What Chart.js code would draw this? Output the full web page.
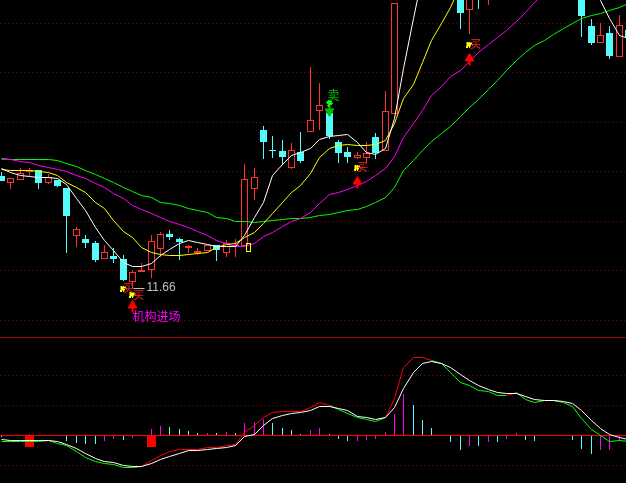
<!DOCTYPE html>
<html>
<head>
<meta charset="utf-8">
<title>K线</title>
<script src="https://cdn.jsdelivr.net/npm/chart.js@4"></script>
<style>
  html, body { margin: 0; padding: 0; background: #000; overflow: hidden; }
  canvas { display: block; }
</style>
</head>
<body>
<canvas id="myChart" width="626" height="483"></canvas>
<script>
// candles, index 0..67, values above 17.43 run off the top of the picture
const opens = [
  13.91, 13.77, 13.83, 13.99, 14.03, 13.77, 13.83, 13.67, 12.71, 12.65,
  12.57, 12.25, 12.31, 12.25, 11.79, 11.99, 12.03, 12.45, 12.75, 12.65,
  12.47, 12.37, 12.41, 12.53, 12.37, 12.51, 12.51, 13.65, 14.83, 14.43,
  14.41, 14.07, 14.39, 14.79, 15.21, 15.17, 14.59, 14.39, 14.27, 14.27,
  14.69, 14.41, 15.15, 18.4, 18.9, 19.8, 20.4, 20.6, 20.9, 18.2,
  17.23, 17.9, 17.8, 18.6, 19.4, 19.9, 20.3, 20.1, 19.8, 19.5,
  19.0, 18.4, 18.0, 16.91, 16.57, 16.77, 16.29, 16.83,
];
const closes = [
  13.81, 13.87, 13.97, 14.03, 13.77, 13.89, 13.71, 13.11, 12.85, 12.57,
  12.23, 12.39, 12.25, 11.83, 11.99, 12.03, 12.61, 12.75, 12.69, 12.59,
  12.51, 12.41, 12.53, 12.43, 12.57, 12.53, 13.85, 13.89, 14.59, 14.41,
  14.29, 14.43, 14.21, 15.03, 15.33, 14.71, 14.37, 14.29, 14.33, 14.37,
  14.37, 15.21, 17.37, 19.0, 19.7, 20.3, 20.5, 20.8, 20.1, 17.17,
  18.0, 17.5, 18.5, 19.3, 19.8, 20.2, 20.0, 19.7, 19.4, 19.1,
  18.5, 18.1, 17.11, 16.57, 16.73, 16.31, 16.93, 16.67,
];
const highs = [
  13.99, 13.87, 14.07, 14.07, 14.03, 13.95, 13.83, 13.67, 12.89, 12.73,
  12.61, 12.53, 12.47, 12.33, 12.03, 12.17, 12.73, 12.79, 12.83, 12.67,
  12.53, 12.47, 12.53, 12.53, 12.63, 12.65, 14.15, 14.07, 14.91, 14.71,
  14.63, 14.57, 14.79, 16.09, 15.77, 15.17, 14.63, 14.49, 14.39, 14.59,
  14.77, 15.61, 17.37, 19.2, 19.9, 20.5, 20.7, 21.0, 21.1, 18.4,
  18.2, 18.1, 18.7, 19.5, 20.0, 20.4, 20.5, 20.3, 20.0, 19.7,
  19.2, 18.6, 18.2, 17.05, 16.97, 16.91, 17.13, 16.83,
];
const lows = [
  13.81, 13.65, 13.83, 13.91, 13.65, 13.75, 13.69, 12.37, 12.49, 12.47,
  12.19, 12.25, 12.17, 11.81, 11.67, 11.99, 11.87, 12.29, 12.63, 12.23,
  12.37, 12.33, 12.41, 12.21, 12.29, 12.29, 12.51, 13.43, 14.25, 14.27,
  14.13, 14.05, 14.17, 14.79, 14.83, 14.65, 14.17, 14.17, 14.25, 14.17,
  14.25, 14.41, 15.15, 18.1, 18.7, 19.6, 20.2, 20.4, 20.0, 16.85,
  16.75, 17.25, 17.33, 18.4, 19.2, 19.7, 19.9, 19.6, 19.3, 19.0,
  18.3, 17.9, 16.69, 16.53, 16.57, 16.25, 16.29, 16.6,
];

// moving averages
const maWhite = [
  14.07, 13.99, 13.93, 13.91, 13.89, 13.89, 13.87, 13.75, 13.47, 13.23,
  12.89, 12.63, 12.43, 12.19, 12.11, 12.11, 12.17, 12.33, 12.45, 12.57,
  12.63, 12.59, 12.55, 12.51, 12.51, 12.51, 12.73, 13.09, 13.39, 13.93,
  14.15, 14.33, 14.39, 14.47, 14.65, 14.71, 14.73, 14.75, 14.59, 14.39,
  14.35, 14.47, 15.07, 16.07, 17.07, 17.93, 18.5, 19.0, 19.4, 19.6,
  19.8, 20.0, 20.1, 20.2, 20.3, 20.2, 20.1, 20.0, 19.7, 19.3,
  18.9, 18.5, 18.2, 17.8, 17.43, 17.07, 16.73, 16.67,
];
const maYellow = [
  14.05, 14.03, 14.03, 14.03, 14.01, 13.99, 13.93, 13.79, 13.69, 13.59,
  13.39, 13.27, 13.03, 12.81, 12.69, 12.49, 12.39, 12.35, 12.33, 12.33,
  12.35, 12.37, 12.39, 12.49, 12.55, 12.57, 12.69, 12.79, 12.97, 13.17,
  13.39, 13.59, 13.73, 13.97, 14.29, 14.47, 14.53, 14.55, 14.53, 14.53,
  14.55, 14.63, 14.97, 15.47, 15.75, 16.19, 16.63, 16.97, 17.29, 17.73,
  18.1, 18.5, 18.9, 19.2, 19.5, 19.8, 20.0, 20.2, 20.4, 20.5,
  20.5, 20.4, 20.2, 20.0, 19.8, 19.5, 19.2, 18.9,
];
const maMagenta = [
  14.25, 14.25, 14.21, 14.19, 14.13, 14.09, 14.05, 14.01, 13.93, 13.87,
  13.77, 13.69, 13.57, 13.47, 13.33, 13.25, 13.17, 13.09, 13.01, 12.95,
  12.89, 12.81, 12.73, 12.63, 12.57, 12.51, 12.51, 12.57, 12.71, 12.79,
  12.91, 13.01, 13.07, 13.19, 13.37, 13.55, 13.59, 13.65, 13.73, 13.81,
  13.93, 14.07, 14.31, 14.69, 14.97, 15.23, 15.53, 15.71, 15.91, 16.03,
  16.21, 16.39, 16.55, 16.69, 16.83, 17.01, 17.19, 17.39, 17.59, 17.8,
  18.0, 18.2, 18.4, 18.6, 18.7, 18.8, 18.9, 19.0,
];
const maGreen = [
  14.27, 14.25, 14.25, 14.25, 14.25, 14.25, 14.23, 14.17, 14.11, 14.03,
  13.95, 13.87, 13.79, 13.69, 13.61, 13.53, 13.49, 13.39, 13.37, 13.33,
  13.27, 13.23, 13.19, 13.09, 13.07, 13.01, 13.01, 12.99, 13.01, 13.03,
  13.05, 13.07, 13.07, 13.09, 13.13, 13.15, 13.19, 13.23, 13.25, 13.31,
  13.39, 13.49, 13.69, 14.03, 14.23, 14.43, 14.61, 14.77, 14.91, 15.11,
  15.29, 15.45, 15.65, 15.83, 16.03, 16.23, 16.39, 16.53, 16.63, 16.75,
  16.87, 16.97, 17.07, 17.13, 17.17, 17.23, 17.29, 17.37,
];

// lower panel
const dea = [
  -0.04, -0.05, -0.05, -0.05, -0.05, -0.05, -0.06, -0.09, -0.13, -0.18,
  -0.23, -0.26, -0.27, -0.30, -0.31, -0.31, -0.28, -0.24, -0.21, -0.18,
  -0.15, -0.15, -0.14, -0.13, -0.12, -0.10, -0.01, 0.01, 0.10, 0.17,
  0.20, 0.22, 0.23, 0.25, 0.29, 0.29, 0.27, 0.25, 0.19, 0.18,
  0.16, 0.18, 0.28, 0.47, 0.63, 0.72, 0.74, 0.72, 0.68, 0.61,
  0.55, 0.50, 0.46, 0.43, 0.42, 0.42, 0.39, 0.36, 0.35, 0.35,
  0.34, 0.32, 0.25, 0.15, 0.07, 0.01, -0.02, -0.04,
];
const dif = [
  -0.06, -0.06, -0.06, -0.06, -0.06, -0.05, -0.08, -0.10, -0.16, -0.22,
  -0.26, -0.28, -0.29, -0.32, -0.32, -0.31, -0.25, -0.20, -0.16, -0.14,
  -0.14, -0.14, -0.12, -0.12, -0.10, -0.09, 0.03, 0.10, 0.18, 0.23,
  0.24, 0.24, 0.24, 0.28, 0.33, 0.30, 0.26, 0.22, 0.18, 0.16,
  0.14, 0.18, 0.37, 0.68, 0.78, 0.78, 0.75, 0.72, 0.63, 0.53,
  0.50, 0.45, 0.44, 0.40, 0.40, 0.43, 0.36, 0.33, 0.35, 0.35,
  0.33, 0.29, 0.17, 0.06, 0.00, -0.06, -0.05, -0.06,
];
const histPink = [
  null, null, null, 0.01, null, null, null, null, null, null,
  null, -0.06, -0.04, null, -0.03, null, 0.06, 0.09, null, null,
  null, null, 0.02, null, 0.03, null, 0.12, 0.13, 0.16, null,
  null, null, null, 0.05, 0.07, null, null, null, -0.06, -0.05,
  -0.04, 0.03, 0.21, 0.41, null, null, null, null, null, null,
  -0.11, null, -0.07, null, -0.04, 0.02, null, null, null, null,
  null, null, null, null, -0.15, -0.15, -0.06, null,
];
const histCyan = [
  -0.02, null, null, null, null, null, null, -0.06, -0.08, -0.09,
  -0.09, null, null, -0.05, null, null, null, null, 0.08, 0.06,
  0.04, 0.02, null, 0.02, null, 0.02, null, null, null, 0.12,
  0.07, 0.05, 0.01, null, null, 0.01, -0.04, -0.06, null, null,
  null, null, null, null, 0.30, 0.15, 0.07, null, -0.07, -0.15,
  null, -0.11, null, -0.07, null, null, -0.05, -0.06, null, null,
  null, -0.05, -0.14, -0.19, null, null, null, null,
];

// signal markers
const signalBars = [3, 16];
const arrowUpBars = [14, 38, 50];
const arrowUpPrices = [11.33, 13.81, 16.27];
const arrowDownBars = [35];
const arrowDownPrices = [15.21];
const gridPrices = [16.97, 15.99, 14.99, 14.01, 13.01, 12.03, 11.03];
const gridMacd = [0.6, 0.3, -0.3];
const RED = "#ff3232";
const CYAN = "#54fcfc";
const PINK = "#ff00ff";
const CJK = '"Noto Sans CJK SC"';

// snaps everything to whole pixels, the original has no anti-aliasing
class PixelLinear extends Chart.LinearScale {
  getPixelForValue(value) {
    const px = super.getPixelForValue(value);
    return Math.round(px) + (this.options.pixelNudge || 0);
  }
}
PixelLinear.id = "pixelLinear";
PixelLinear.defaults = Chart.LinearScale.defaults;
Chart.register(PixelLinear);

const points = (values) =>
  values.map((y, x) => ({ x, y })).filter((p) => p.y !== null);

const floatBars = (a, b) => a.map((v, x) => ({ x, y: [v, b[x]] }));

const lineSet = (data, color, order, extra) => ({
  type: "line",
  data,
  borderColor: color,
  borderWidth: 1,
  pointRadius: 0,
  tension: 0,
  yAxisID: "yLine",
  order,
  ...extra,
});

const barSet = (data, width, order, extra) => ({
  type: "bar",
  data,
  grouped: false,
  maxBarThickness: width,
  barPercentage: 1,
  categoryPercentage: 1,
  borderSkipped: false,
  inflateAmount: 0,
  order,
  ...extra,
});

const upColor = (ctx) =>
  closes[ctx.dataIndex] >= opens[ctx.dataIndex] ? RED : CYAN;

const markerSet = (data, style, radius, color, extra) =>
  lineSet(data, color, 5, {
    showLine: false,
    pointStyle: style,
    pointRadius: radius,
    pointBackgroundColor: color,
    pointBorderColor: color,
    pointBorderWidth: 1,
    ...extra,
  });

// little bitmap glyphs, the original marks are rough pixel icons
const sprite = (rows, color) => {
  const c = document.createElement("canvas");
  c.width = rows[0].length;
  c.height = rows.length;
  const g = c.getContext("2d");
  g.fillStyle = color;
  rows.forEach((row, y) => {
    [...row].forEach((ch, x) => {
      if (ch === "#") g.fillRect(x, y, 1, 1);
    });
  });
  return c;
};

const yellowBox = sprite(
  ["#####", "#...#", "#...#", "#...#", "#...#", "#...#", "#...#", "#...#", "#####"],
  "#ffff00"
);
const buyBlob = sprite(
  ["##.#...", ".#####.", "######.", ".####.#", "#####..", "##.#..."],
  "#ffff00"
);
const sellBlob = sprite(
  ["..###..", ".#####.", "######.", ".######", "..####.", ".###...", "..#...."],
  "#00ff00"
);

const textMarks = [
  { text: "买", i: 13.63, p: 11.68, color: "#ff2020", font: `11px ${CJK}` },
  { text: "买", i: 14.65, p: 11.54, color: "#ff2020", font: `11px ${CJK}` },
  { text: "买", i: 38.58, p: 14.1, color: "#ff2020", font: `11px ${CJK}` },
  { text: "买", i: 50.65, p: 16.56, color: "#ff2020", font: `11px ${CJK}` },
  { text: "卖", i: 35.53, p: 15.53, color: "#00c000", font: `12px ${CJK}` },
  { text: "11.66", i: 15.5, p: 11.66, color: "#c0c0c0", font: "12px Liberation Sans", left: true },
  { text: "机构进场", i: 14, p: 11.11, color: PINK, font: `12px ${CJK}`, left: true },
];

const textPlugin = {
  id: "textMarks",
  afterDatasetsDraw(chart) {
    const { ctx, scales } = chart;
    ctx.save();
    ctx.textBaseline = "middle";
    textMarks.forEach((m) => {
      ctx.font = m.font;
      ctx.fillStyle = m.color;
      ctx.textAlign = m.left ? "left" : "center";
      ctx.fillText(m.text, scales.x.getPixelForValue(m.i), scales.y.getPixelForValue(m.p));
    });
    ctx.restore();
  },
};

const pricePanelAxis = { type: "pixelLinear", min: 7.77, max: 17.43 };
const macdPanelAxis = { type: "pixelLinear", min: -0.48, max: 4.35 };

const gridAxis = (ticks) => ({
  afterBuildTicks: (scale) => {
    scale.ticks = ticks.map((value) => ({ value }));
  },
  ticks: { display: false, autoSkip: false },
  grid: { color: "#800000", drawTicks: false, lineWidth: 1 },
  border: { display: false, dash: [1, 3] },
});

const config = {
  type: "bar",
  data: {
    datasets: [
      barSet(floatBars(lows, highs), 1, 60, {
        backgroundColor: upColor,
        borderWidth: 0,
      }),
      barSet(floatBars(opens, closes), 7, 50, {
        backgroundColor: (ctx) => (upColor(ctx) === RED ? "#000" : CYAN),
        borderColor: upColor,
        borderWidth: 1,
      }),
      barSet(points(histPink), 1, 55, { yAxisID: "macd", backgroundColor: PINK, borderWidth: 0 }),
      barSet(points(histCyan), 1, 55, { yAxisID: "macd", backgroundColor: CYAN, borderWidth: 0 }),
      barSet(
        signalBars.map((x) => ({ x, y: [0, -0.12] })),
        9,
        45,
        { yAxisID: "macd", backgroundColor: "#ff0000", borderWidth: 0 }
      ),
      lineSet(points(maGreen), "#00ff00", 33),
      lineSet(points(maMagenta), PINK, 32),
      lineSet(points(maYellow), "#ffff00", 31),
      lineSet(points(maWhite), "#ffffff", 30),
      lineSet([{ x: -1, y: 0 }, { x: 68, y: 0 }], "#ff0000", 40, { yAxisID: "macdLine" }),
      lineSet([{ x: -1, y: 10.69 }, { x: 68, y: 10.69 }], "#b00000", 40),
      lineSet(points(dif), "#00ff00", 21, {
        yAxisID: "macdLine",
        segment: {
          borderColor: (ctx) =>
            dif[ctx.p1DataIndex] > dea[ctx.p1DataIndex] ? "#ff0000" : "#00ff00",
        },
      }),
      lineSet(points(dea), "#ffffff", 20, { yAxisID: "macdLine" }),
      // buy and sell marks
      markerSet([{ x: 13, y: 11.68 }, { x: 14, y: 11.55 }, { x: 38, y: 14.1 }, { x: 50, y: 16.56 }],
        buyBlob, 4, "#ffff00"),
      markerSet([{ x: 35, y: 15.37 }], sellBlob, 4, "#00ff00"),
      markerSet([{ x: 26.4, y: 12.5 }], yellowBox, 4, "#ffff00"),
      markerSet(arrowUpBars.map((x, k) => ({ x, y: arrowUpPrices[k] })), "triangle", 5, "#ff0000"),
      markerSet(arrowDownBars.map((x, k) => ({ x, y: arrowDownPrices[k] })), "triangle", 5, "#00c000", {
        pointRotation: 180,
      }),
      ...arrowUpBars.map((x, k) =>
        lineSet([{ x, y: arrowUpPrices[k] }, { x, y: arrowUpPrices[k] - 0.14 }], "#ff0000", 6, { borderWidth: 2 })
      ),
      lineSet([{ x: 35, y: 15.33 }, { x: 35, y: 15.23 }], "#00c000", 6, { borderWidth: 2 }),
      lineSet([{ x: 14.1, y: 11.66 }, { x: 15.3, y: 11.66 }], "#c0c0c0", 6),
    ],
  },
  options: {
    responsive: false,
    animation: false,
    events: [],
    layout: { padding: 0, autoPadding: false },
    plugins: { legend: { display: false }, tooltip: { enabled: false } },
    scales: {
      x: { type: "pixelLinear", min: -0.096, max: 66.78, display: false, offset: false, pixelNudge: 0.5 },
      y: { ...pricePanelAxis, position: "left", ...gridAxis(gridPrices) },
      macd: { ...macdPanelAxis, position: "left", ...gridAxis(gridMacd) },
      yLine: { ...pricePanelAxis, display: false, pixelNudge: 0.5 },
      macdLine: { ...macdPanelAxis, display: false, pixelNudge: 0.5 },
    },
  },
  plugins: [textPlugin],
};

new Chart(document.getElementById("myChart"), config);
</script>
</body>
</html>
